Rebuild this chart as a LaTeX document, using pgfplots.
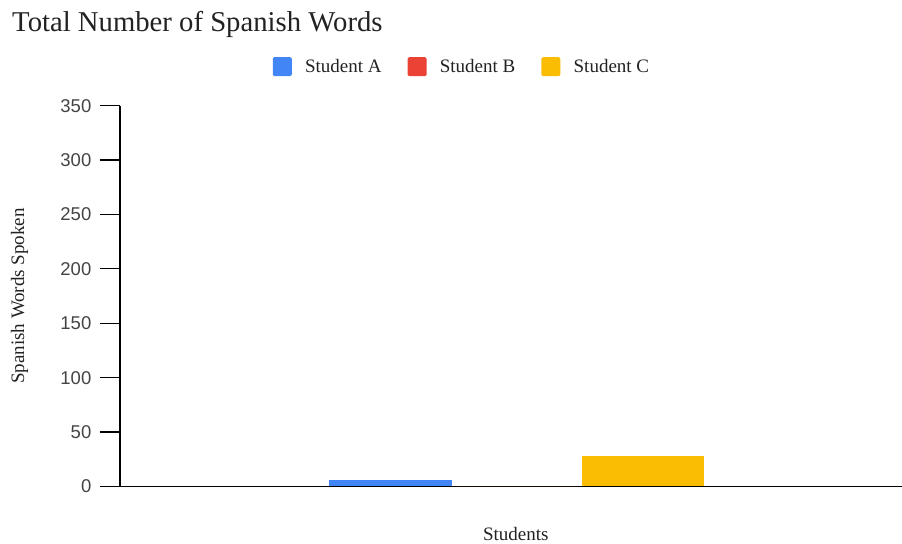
\documentclass[border=0pt]{standalone}
\usepackage{fontspec}
\setmainfont{Liberation Serif}
\newfontfamily\arial{Liberation Sans}
\usepackage{pgfplots}
\pgfplotsset{compat=1.18}
\definecolor{cA}{HTML}{4285F4}
\definecolor{cB}{HTML}{EA4335}
\definecolor{cC}{HTML}{FBBC04}
\definecolor{txt}{HTML}{222222}
\definecolor{tick}{HTML}{444444}
\begin{document}
\begin{tikzpicture}[x=1bp,y=1bp]
\useasboundingbox (0,0) rectangle (902,544);
\begin{axis}[
  at={(120bp,57.5bp)}, anchor=south west,
  scale only axis, width=782bp, height=380.8bp,
  xmin=-396.7, xmax=385.3, ymin=0, ymax=350,
  axis x line=bottom, axis y line=left,
  axis line style={-, black, line width=1.1bp},
  xtick=\empty,
  ytick={0,50,...,350},
  tick align=outside,
  major tick length=20bp,
  y tick style={black, line width=1.2bp},
  /pgf/number format/assume math mode=true,
  yticklabel style={font=\arial\fontsize{18.5bp}{19bp}\selectfont, text=tick, inner sep=0pt, xshift=-8.5bp},
  legend columns=3,
  legend style={at={(0.436,1.1024)}, anchor=center, draw=none, fill=none,
    font=\fontsize{19bp}{19bp}\selectfont, text=txt,
    inner sep=0pt, nodes={inner sep=0pt},
    /tikz/every even column/.append style={column sep=26bp},
    /tikz/every odd column/.append style={column sep=13.3bp}},
  mylegend/.style={legend image code/.code={\fill[##1, rounded corners=1.5bp] (0bp,-9.5bp) rectangle (19bp,9.5bp);}},
  clip=false,
]
\addplot[ybar, bar width=122.5, bar shift=0, fill=cA, draw=none, mylegend] coordinates {(-126.3,6)};
\addlegendentry{Student A}
\addplot[ybar, bar width=122.5, bar shift=0, fill=cB, draw=none, mylegend] coordinates {(0,0)};
\addlegendentry{Student B}
\addplot[ybar, bar width=122.5, bar shift=0, fill=cC, draw=none, mylegend] coordinates {(126.3,28)};
\addlegendentry{Student C}
\end{axis}
\node[anchor=base west, inner sep=0, text=txt, font=\fontsize{28.7bp}{28.7bp}\selectfont] at (12,512.3) {Total Number of Spanish Words};
\node[anchor=center, rotate=90, inner sep=0, text=txt, font=\fontsize{19bp}{19bp}\selectfont] at (19.5,248) {Spanish Words Spoken};
\node[anchor=base, inner sep=0, text=txt, font=\fontsize{19bp}{19bp}\selectfont] at (515.8,3) {Students};
\end{tikzpicture}
\end{document}
